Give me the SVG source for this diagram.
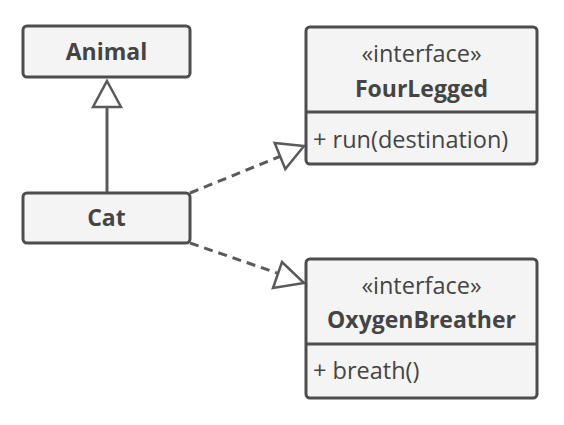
<svg xmlns="http://www.w3.org/2000/svg" width="564" height="425" viewBox="0 0 564 425">
<style>
.box{fill:#f4f4f4;stroke:#4d4d4d;stroke-width:3}
.div{stroke:#4d4d4d;stroke-width:3}
.t{font-family:"Open Sans","Liberation Sans",sans-serif;font-size:23.5px;fill:#444}
.b{font-weight:bold;font-size:23px}
.c{text-anchor:middle}
.ln{fill:none;stroke:#5a5a5a;stroke-width:3}
.d{stroke-dasharray:9 6}
.ah{fill:#fff;stroke:#5a5a5a;stroke-width:2.5;stroke-linejoin:miter}
</style>
<rect width="564" height="425" fill="#fff"/>
<g id="connectors">
<line class="ln" x1="107" y1="193" x2="107" y2="106"/>
<polygon class="ah" points="107,81 121,107 93,107"/>
<line class="ln d" x1="190" y1="193" x2="281" y2="156"/>
<polygon class="ah" points="304,146 285.3,169 274.7,143"/>
<line class="ln d" x1="190" y1="243" x2="280" y2="274"/>
<polygon class="ah" points="304,283 273,288 282,262"/>
</g>
<g id="animal">
<rect class="box" x="23" y="26" width="167" height="51" rx="4"/>
<text class="t b c" x="106.5" y="60">Animal</text>
</g>
<g id="cat">
<rect class="box" x="23" y="193" width="167" height="50" rx="4"/>
<text class="t b c" x="106.5" y="226">Cat</text>
</g>
<g id="fourlegged">
<rect class="box" x="306" y="27" width="231" height="137" rx="4"/>
<line class="div" x1="306" y1="112" x2="537" y2="112"/>
<text class="t c" x="421.5" y="62">«interface»</text>
<text class="t b c" x="421.5" y="97">FourLegged</text>
<text class="t" x="313" y="148">+ run(destination)</text>
</g>
<g id="oxygenbreather">
<rect class="box" x="306" y="259" width="231" height="139" rx="4"/>
<line class="div" x1="306" y1="344" x2="537" y2="344"/>
<text class="t c" x="421.5" y="294">«interface»</text>
<text class="t b c" x="421.5" y="328">OxygenBreather</text>
<text class="t" x="313" y="379">+ breath()</text>
</g>
</svg>
